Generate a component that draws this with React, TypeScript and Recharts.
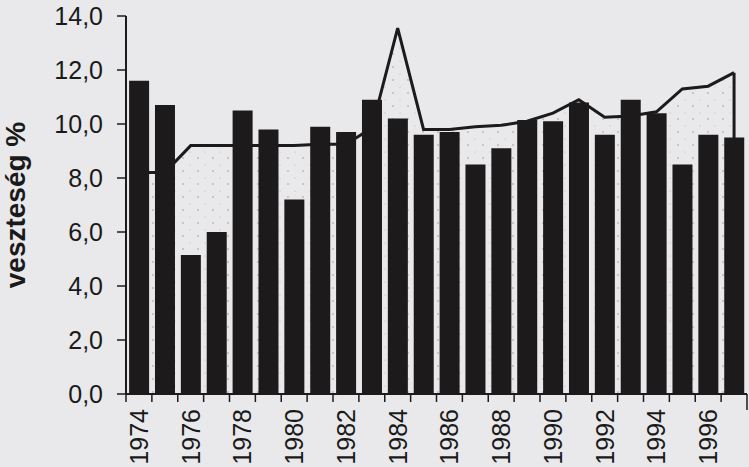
import React from 'react';
import { ComposedChart, Bar, Area, XAxis, YAxis, ReferenceLine } from 'recharts';

const years = ['1974','1975','1976','1977','1978','1979','1980','1981','1982','1983','1984','1985','1986','1987','1988','1989','1990','1991','1992','1993','1994','1995','1996','1997'];
const lossBars = [11.6, 10.7, 5.15, 6.0, 10.5, 9.8, 7.2, 9.9, 9.7, 10.9, 10.2, 9.6, 9.7, 8.5, 9.1, 10.15, 10.1, 10.8, 9.6, 10.9, 10.4, 8.5, 9.6, 9.5];
const lossLine = [8.2, 8.2, 9.2, 9.2, 9.2, 9.2, 9.2, 9.25, 9.25, 9.85, 13.55, 9.8, 9.8, 9.9, 9.95, 10.1, 10.4, 10.9, 10.25, 10.3, 10.45, 11.3, 11.4, 11.9];
const yTicks = [0, 2, 4, 6, 8, 10, 12, 14];
const yLabel = 'veszteség %';

const data = years.map((y, i) => ({ year: y, bar: lossBars[i], line: lossLine[i] }));

const W = 749;
const H = 467;
const LEFT = 126;
const RIGHT = 2;
const TOP = 16;
const XAXIS_H = 73;
const BAND = (W - LEFT - RIGHT) / years.length;
const FONT = '"Liberation Sans", Arial, sans-serif';
const INK = '#1c1a1a';
const BG = '#e9e9eb';

const XTick = (props: any) => {
  const { x, y, payload, index } = props;
  const axisY = y - 8;
  const showLabel = index % 2 === 0;
  return (
    <g>
      <line x1={x - BAND / 2} x2={x - BAND / 2} y1={axisY} y2={axisY + 8} stroke={INK} strokeWidth={1.5} />
      {index === years.length - 1 && (
        <line x1={x + BAND / 2} x2={x + BAND / 2} y1={axisY} y2={axisY + 16} stroke={INK} strokeWidth={1.5} />
      )}
      {showLabel && (
        <text
          x={x}
          y={axisY + 15}
          transform={`rotate(-90 ${x} ${axisY + 15})`}
          textAnchor="end"
          dy="0.36em"
          fontSize={25}
          fontFamily={FONT}
          fill="#1a1a1a"
        >
          {payload.value}
        </text>
      )}
    </g>
  );
};

const YLabelContent = (props: any) => {
  const vb = props.viewBox || {};
  const cx = 25;
  const cy = (vb.y ?? TOP) + (vb.height ?? 378) / 2;
  return (
    <text
      x={cx}
      y={cy}
      transform={`rotate(-90 ${cx} ${cy})`}
      textAnchor="middle"
      fontSize={28}
      fontWeight="bold"
      fontFamily={FONT}
      fill="#1a1a1a"
    >
      {yLabel}
    </text>
  );
};

export default function App() {
  return (
    <div style={{ position: 'absolute', left: 0, top: 0, width: W, height: H, overflow: 'hidden', background: BG }}>
      <ComposedChart
        width={W}
        height={H}
        data={data}
        margin={{ top: TOP, right: RIGHT, bottom: 0, left: 0 }}
        barCategoryGap="12%"
      >
        <defs>
          <pattern id="dots" width="15" height="13" patternUnits="userSpaceOnUse">
            <rect width="15" height="13" fill={BG} />
            <circle cx="3" cy="2" r="0.7" fill="#888" />
            <circle cx="10" cy="9" r="0.5" fill="#aaa" />
          </pattern>
        </defs>
        <XAxis
          dataKey="year"
          interval={0}
          height={XAXIS_H}
          tickLine={false}
          tickSize={8}
          tickMargin={0}
          tick={<XTick />}
          axisLine={{ stroke: INK, strokeWidth: 2 }}
        />
        <YAxis
          width={LEFT}
          domain={[0, 14]}
          ticks={yTicks}
          interval={0}
          tickFormatter={(v: number) => v.toFixed(1).replace('.', ',')}
          tickSize={9}
          tickMargin={14}
          tick={{ fontSize: 25, fontFamily: FONT, fill: '#1a1a1a' }}
          tickLine={{ stroke: INK, strokeWidth: 1.5 }}
          axisLine={{ stroke: INK, strokeWidth: 2 }}
          label={{ content: <YLabelContent /> }}
        />
        <Area
          type="linear"
          dataKey="line"
          stroke={INK}
          strokeWidth={3}
          fill="url(#dots)"
          fillOpacity={1}
          isAnimationActive={false}
          dot={false}
          activeDot={false}
        />
        <ReferenceLine
          segment={[{ x: years[years.length - 1], y: 0 }, { x: years[years.length - 1], y: lossLine[lossLine.length - 1] }]}
          stroke={INK}
          strokeWidth={3}
        />
        <Bar dataKey="bar" fill={INK} isAnimationActive={false} />
      </ComposedChart>
    </div>
  );
}
